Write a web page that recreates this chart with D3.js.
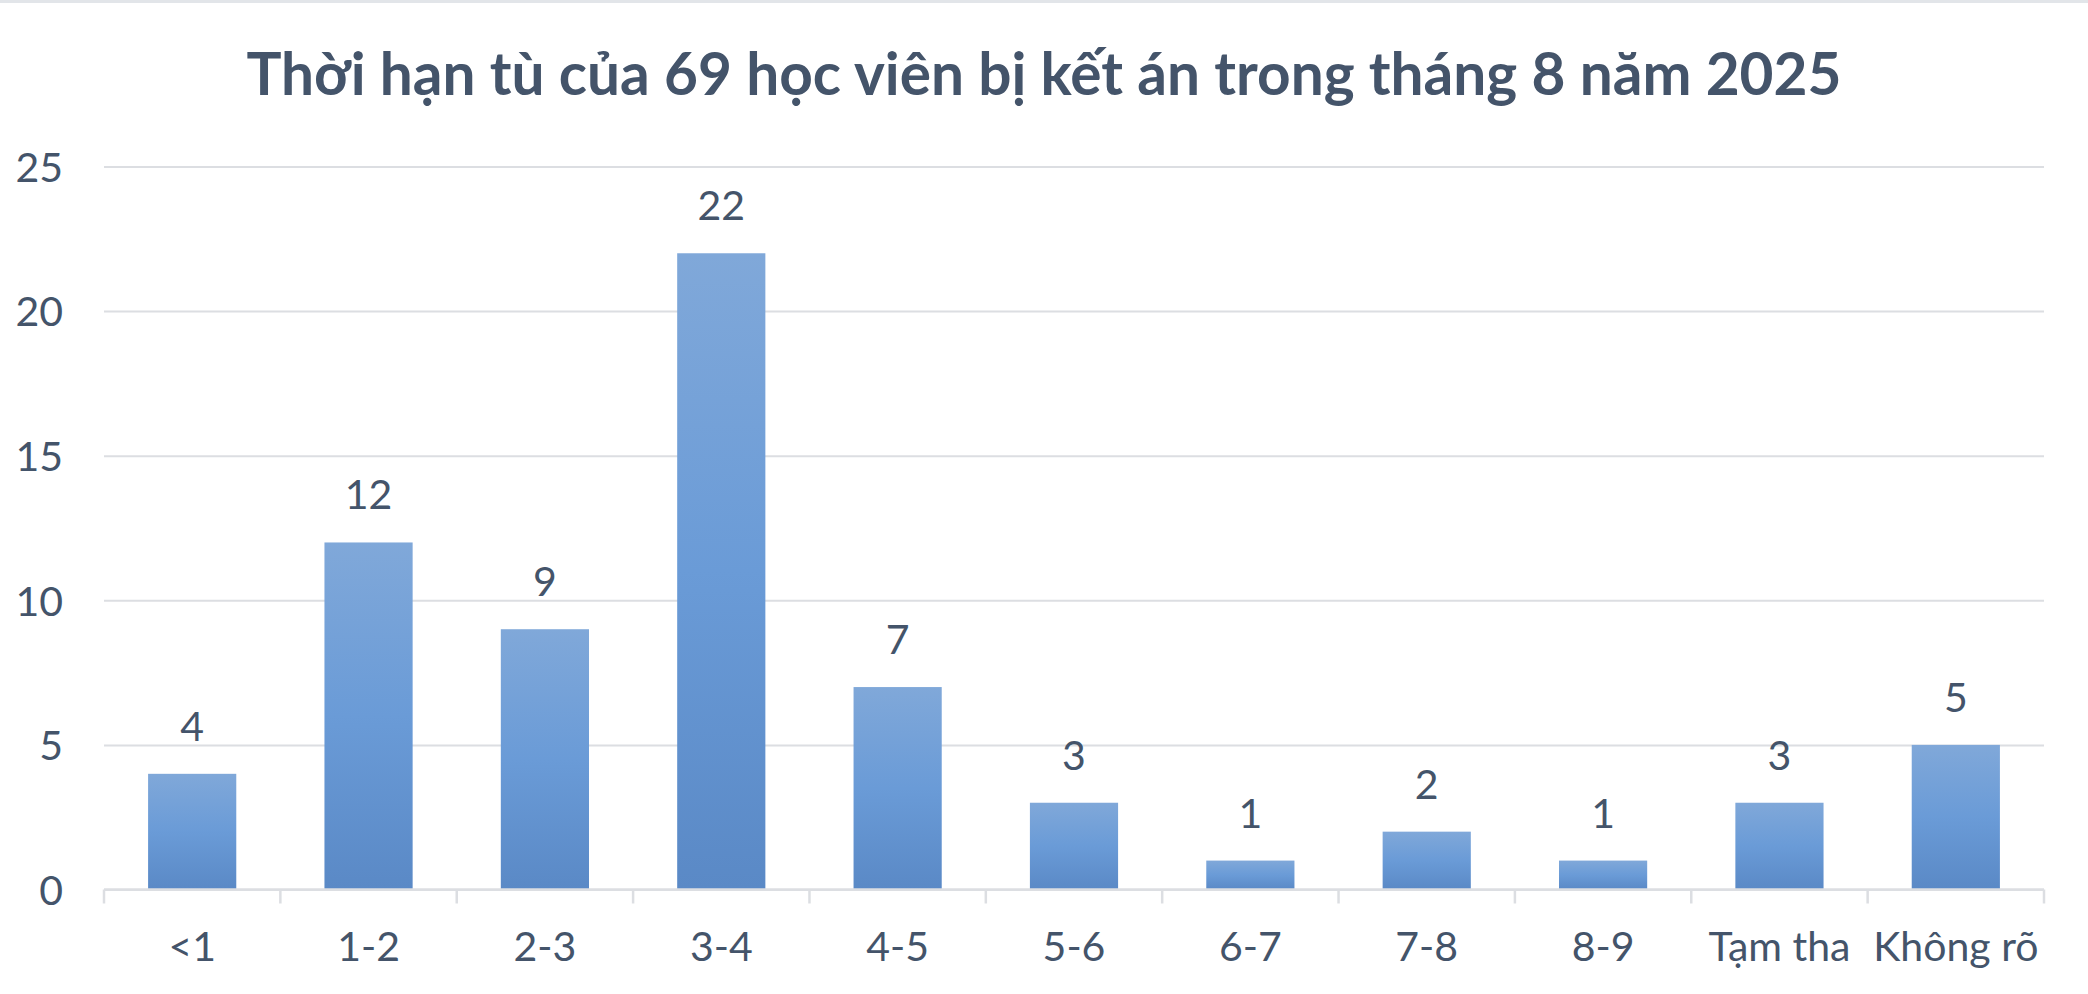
<!DOCTYPE html>
<html><head><meta charset="utf-8">
<script src="https://cdn.jsdelivr.net/npm/d3@7"></script>
<style>html,body{margin:0;padding:0;background:#fff;}svg{display:block;}</style>
</head><body>
<svg id="chart" width="2088" height="994"></svg>
<script>
const titleText = "Thời hạn tù của 69 học viên bị kết án trong tháng 8 năm 2025";
const categories = ["<1","1-2","2-3","3-4","4-5","5-6","6-7","7-8","8-9","Tạm tha","Không rõ"];
const values = [4,12,9,22,7,3,1,2,1,3,5];
const yTicks = [0,5,10,15,20,25];

(function(){
const W = 2088, H = 994;
const mLeft = 104, mRight = 2044, mTop = 166.5, mBottom = 889.5;
const textColor = "#44546A", gridColor = "#DCDEE2";
const font = "Lato, 'Open Sans', sans-serif";

const svg = d3.select("#chart");
svg.append("rect").attr("x",0).attr("y",0).attr("width",W).attr("height",3).attr("fill","#E2E5E9");

const defs = svg.append("defs");
const grad = defs.append("linearGradient").attr("id","barGrad").attr("x1",0).attr("y1",0).attr("x2",0).attr("y2",1);
grad.append("stop").attr("offset","0%").attr("stop-color","#80A8D9");
grad.append("stop").attr("offset","50%").attr("stop-color","#6A9BD7");
grad.append("stop").attr("offset","100%").attr("stop-color","#5A89C6");

const x = d3.scaleBand().domain(categories).range([mLeft,mRight]).paddingInner(0.5).paddingOuter(0.25);
const xCell = d3.scaleBand().domain(categories).range([mLeft,mRight]).padding(0);
const y = d3.scaleLinear().domain([0,25]).range([mBottom,mTop]);

// gridlines + y labels
const yAxis = d3.axisLeft(y).tickValues(yTicks).tickSize(-(mRight-mLeft)).tickPadding(41).tickFormat(d3.format("d"));
const gy = svg.append("g").attr("transform",`translate(${mLeft},0)`).call(yAxis);
gy.select(".domain").remove();
gy.selectAll(".tick line").attr("stroke",gridColor).attr("stroke-width",2);
gy.selectAll(".tick text").attr("fill",textColor).attr("font-family",font).attr("font-size",41).attr("dy","0.36em");

// bars
svg.append("g").selectAll("rect").data(values).join("rect")
  .attr("x",(d,i)=>x(categories[i]))
  .attr("width",x.bandwidth())
  .attr("y",d=>y(d))
  .attr("height",d=>y(0)-y(d))
  .attr("fill","url(#barGrad)");

// x axis line and boundary ticks
svg.append("line").attr("x1",mLeft).attr("x2",mRight).attr("y1",y(0)).attr("y2",y(0)).attr("stroke",gridColor).attr("stroke-width",2.5);
const bounds = categories.map(c=>xCell(c)).concat([xCell(categories[categories.length-1])+xCell.bandwidth()]);
svg.append("g").selectAll("line").data(bounds).join("line")
  .attr("x1",d=>d).attr("x2",d=>d).attr("y1",y(0)).attr("y2",y(0)+14)
  .attr("stroke",gridColor).attr("stroke-width",2.5);

// x labels
const xAxis = d3.axisBottom(x).tickSize(0).tickPadding(0);
const gx = svg.append("g").attr("transform",`translate(0,${y(0)})`).call(xAxis);
gx.select(".domain").remove();
gx.selectAll(".tick text").attr("fill",textColor).attr("font-family",font).attr("font-size",41).attr("y",71).attr("dy",0);

// value labels
svg.append("g").selectAll("text").data(values).join("text")
  .attr("x",(d,i)=>x(categories[i])+x.bandwidth()/2)
  .attr("y",d=>y(d)-33)
  .attr("text-anchor","middle").attr("fill",textColor).attr("font-family",font).attr("font-size",41)
  .text(d=>d);

// title
const t = svg.append("text").attr("x",W/2).attr("y",95).attr("text-anchor","middle")
  .attr("fill",textColor).attr("font-family",font).attr("font-weight","bold").attr("font-size",60)
  .text(titleText);
t.attr("textLength",1595).attr("lengthAdjust","spacingAndGlyphs");
})();
</script>
</body></html>
